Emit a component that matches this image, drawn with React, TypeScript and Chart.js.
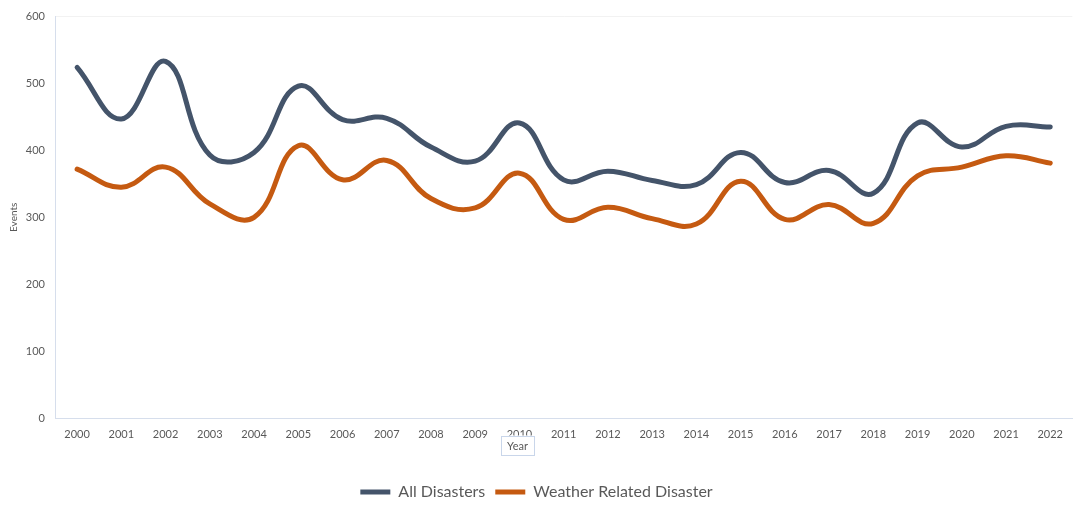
import React, { useEffect, useRef } from "react";
import { Chart, registerables } from "chart.js";

Chart.register(...registerables);

const years = ["2000","2001","2002","2003","2004","2005","2006","2007","2008","2009","2010","2011","2012","2013","2014","2015","2016","2017","2018","2019","2020","2021","2022"];
const allDisasters = [524,447,533,393,397,496,446,448,405,384,441,356,369,355,349,397,352,370,336,441,405,436,435];
const weatherRelated = [372,345,375,320,300,407,356,385,328,314,366,297,315,298,290,354,297,319,291,362,375,392,381];
const yTicks = [0,100,200,300,400,500,600];

const FONT = "Lato, 'Open Sans', sans-serif";
const GREY = "#595959";

const yearBoxPlugin = {
  id: "yearBox",
  afterDraw(chart: any) {
    const ctx = chart.ctx;
    const xs = chart.scales.x;
    const cx = xs.getPixelForValue(10) - 2;
    const cy = 445;
    ctx.save();
    ctx.font = `11px ${FONT}`;
    const w = 33, h = 19;
    ctx.fillStyle = "#ffffff";
    ctx.fillRect(cx - w / 2, cy - h / 2, w, h);
    ctx.strokeStyle = "#C9D6EA";
    ctx.lineWidth = 1;
    ctx.strokeRect(Math.round(cx - w / 2) + 0.5, Math.round(cy - h / 2) + 0.5, w, h);
    ctx.fillStyle = GREY;
    ctx.textAlign = "center";
    ctx.textBaseline = "middle";
    ctx.fillText("Year", cx, cy + 1);
    ctx.restore();
  },
};

export default function App() {
  const ref = useRef<HTMLCanvasElement | null>(null);
  useEffect(() => {
    document.body.style.margin = "0";
    const chart = new Chart(ref.current as HTMLCanvasElement, {
      type: "line",
      data: {
        labels: years,
        datasets: [
          {
            label: "All Disasters",
            data: allDisasters,
            borderColor: "#44546A",
            backgroundColor: "#44546A",
            borderWidth: 5,
            tension: 0.42,
            pointRadius: 0,
            borderCapStyle: "round",
            borderJoinStyle: "round",
          },
          {
            label: "Weather Related Disaster",
            data: weatherRelated,
            borderColor: "#C55A11",
            backgroundColor: "#C55A11",
            borderWidth: 5,
            tension: 0.42,
            pointRadius: 0,
            borderCapStyle: "round",
            borderJoinStyle: "round",
          },
        ],
      },
      options: {
        responsive: false,
        animation: false,
        layout: { padding: { top: 9, right: 0, bottom: -5, left: 0 } },
        plugins: {
          tooltip: { enabled: false },
          legend: {
            position: "bottom",
            labels: {
              usePointStyle: true,
              pointStyle: "line",
              pointStyleWidth: 30,
              boxHeight: 5,
              padding: 10,
              color: GREY,
              font: { family: FONT, size: 16 },
            },
          },
        },
        scales: {
          x: {
            type: "category",
            offset: true,
            grid: { display: false, drawTicks: false },
            border: { display: true, color: "#D6DEEC", width: 1 },
            ticks: { color: GREY, font: { family: FONT, size: 11 }, padding: 10, maxRotation: 0, autoSkip: false },
            afterFit(scale: any) { scale.height = 56; },
          },
          y: {
            min: 0,
            max: 600,
            afterBuildTicks(scale: any) { scale.ticks = yTicks.map((v) => ({ value: v })); },
            grid: {
              drawTicks: false,
              color: (c: any) => (c.tick && c.tick.value === 600 ? "#F2F2F2" : "rgba(0,0,0,0)"),
            },
            border: { display: true, color: "#D6DEEC", width: 1 },
            ticks: { color: GREY, font: { family: FONT, size: 11 }, padding: 10 },
            title: { display: true, text: "Events", color: GREY, font: { family: FONT, size: 10 }, padding: { top: 8, bottom: 0 } },
            afterFit(scale: any) { scale.width = 55; },
          },
        },
      },
      plugins: [yearBoxPlugin],
    });
    return () => chart.destroy();
  }, []);
  return (
    <div style={{ width: 1073, height: 505 }}>
      <canvas ref={ref} width={1073} height={505} />
    </div>
  );
}
